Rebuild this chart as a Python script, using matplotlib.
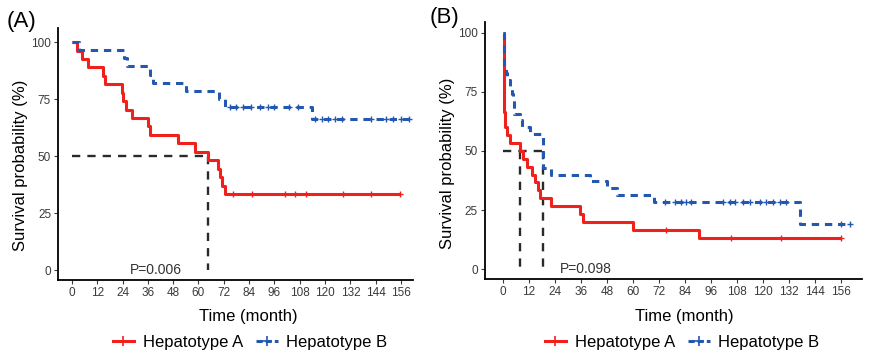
import matplotlib
matplotlib.use("Agg")
import matplotlib.pyplot as plt
from matplotlib.lines import Line2D

plt.rcParams['font.family'] = ['Liberation Sans', 'DejaVu Sans']

# ---------------- data ----------------
months_ticks = [0, 12, 24, 36, 48, 60, 72, 84, 96, 108, 120, 132, 144, 156]
surv_ticks = [0, 25, 50, 75, 100]
group_names = ["Hepatotype A", "Hepatotype B"]

# Panel A
A_red_times = [0, 2.2, 5, 7.5, 14.7, 15.5, 23.5, 24, 25.5, 28.5, 36, 36.8, 50.4, 58.3, 64.6, 69.3, 70.2, 71.2, 72.5]
A_red_surv = [100, 96.3, 92.6, 88.9, 85.2, 81.5, 77.8, 74.1, 70.4, 66.7, 63.0, 59.3, 55.6, 51.9, 48.1, 44.4, 40.7, 37.0, 33.3]
A_red_end = 155.5
A_red_censor = [76.5, 85.2, 101, 105.7, 111, 128.6, 142, 155.5]

A_blue_times = [0, 3.5, 24.5, 26, 37, 38.5, 54, 69.5, 72.5, 113.6]
A_blue_surv = [100, 96.4, 92.9, 89.3, 85.7, 82.1, 78.6, 75.0, 71.4, 66.4]
A_blue_end = 160
A_blue_censor = [75, 78, 81, 85, 89, 93, 96, 103, 107, 115, 118.4, 121.5, 124.7, 128, 142, 149, 152, 156, 160]
A_pvalue = "P=0.006"

# Panel B
B_red_times = [0, 0.3, 0.6, 0.8, 1.0, 1.8, 3.1, 7.7, 9.4, 10.9, 13.2, 14.7, 16.3, 17.1, 22.4, 35.4, 37.0, 60.0, 90.4]
B_red_surv = [100, 70, 66.7, 63.3, 60, 56.7, 53.3, 50, 46.7, 43.3, 40, 36.7, 33.3, 30, 26.7, 23.3, 20, 16.7, 13.3]
B_red_end = 156
B_red_censor = [75.4, 105.4, 128.5, 156]

B_blue_times = [0, 0.4, 1.2, 2.0, 3.1, 4.0, 4.6, 5.0, 5.3, 8.0, 9.0, 12.3, 18.5, 22.3, 40.0, 48.0, 52.6, 69.9, 137.0]
B_blue_surv = [100, 85.7, 82.9, 80.0, 77.1, 74.3, 71.4, 68.6, 65.7, 62.9, 60.0, 57.1, 42.9, 40.0, 37.1, 34.3, 31.4, 28.6, 19.0]
B_blue_end = 160
B_blue_censor = [74.6, 79.3, 82.3, 84.6, 86.9, 101.5, 104.6, 107, 110.8, 113.9, 118.5, 121.6, 124.6, 127.7, 130.8, 156.2, 160]
B_pvalue = "P=0.098"

RED = "#F0201C"
BLUE = "#2357B0"
TICKC = "#3A3A3A"

fig = plt.figure(figsize=(8.71, 3.61), dpi=100)


def surv_at(times, surv, t):
    val = surv[0]
    for ti, si in zip(times, surv):
        if ti <= t:
            val = si
    return val


def median_time(times, surv):
    for ti, si in zip(times, surv):
        if si <= 50:
            return ti
    return None


def draw_panel(ax, curves, pvalue, ptext_x, xlim, ylim):
    medians = []
    for times, surv, end, cens, color, ls in curves:
        xs = list(times) + [end]
        ys = list(surv) + [surv[-1]]
        ax.step(xs, ys, where='post', color=color, lw=2.2, linestyle=ls,
                solid_capstyle='butt', dash_capstyle='butt', zorder=3)
        cy = [surv_at(times, surv, c) for c in cens]
        ax.plot(cens, cy, linestyle='none', marker='+', color=color,
                markersize=5, markeredgewidth=1.0, zorder=4)
        m = median_time(times, surv)
        if m is not None:
            medians.append(m)
    if medians:
        ax.plot([0, max(medians)], [50, 50], color="#2a2a2a", lw=1.7,
                linestyle=(0, (3.5, 3)), zorder=2)
        for m in medians:
            ax.plot([m, m], [50, 0], color="#2a2a2a", lw=1.7,
                    linestyle=(0, (3.5, 3)), zorder=2)
    ax.text(ptext_x, 0, pvalue, fontsize=10, color="#333333", va='center', ha='left')
    ax.set_xlim(*xlim)
    ax.set_ylim(*ylim)
    ax.set_xticks(months_ticks)
    ax.set_yticks(surv_ticks)
    ax.set_xticklabels([str(v) for v in months_ticks])
    ax.set_yticklabels([str(v) for v in surv_ticks])
    ax.tick_params(axis='both', labelsize=8.5, colors=TICKC, length=3, width=0.8, pad=2)
    for s in ['top', 'right']:
        ax.spines[s].set_visible(False)
    for s in ['left', 'bottom']:
        ax.spines[s].set_color('black')
        ax.spines[s].set_linewidth(1.3)


axA = fig.add_axes([0.0666, 0.224, 0.4076, 0.698])
draw_panel(axA,
           [(A_red_times, A_red_surv, A_red_end, A_red_censor, RED, '-'),
            (A_blue_times, A_blue_surv, A_blue_end, A_blue_censor, BLUE, (0, (2.4, 1.9)))],
           A_pvalue, 27.5, (-6.6, 161.7), (-4.4, 106.1))

axB = fig.add_axes([0.5568, 0.2271, 0.4328, 0.712])
draw_panel(axB,
           [(B_red_times, B_red_surv, B_red_end, B_red_censor, RED, '-'),
            (B_blue_times, B_blue_surv, B_blue_end, B_blue_censor, BLUE, (0, (2.4, 1.9)))],
           B_pvalue, 26.2, (-8.3, 165.7), (-4.2, 104.6))

# axis titles
for xc in (248 / 871, 684 / 871):
    fig.text(xc, 1 - 317 / 361, "Time (month)", ha='center', va='center', fontsize=12)
fig.text(21 / 871, 1 - 165 / 361, "Survival probability (%)", rotation=90,
         ha='center', va='center', fontsize=12)
fig.text(447 / 871, 1 - 163 / 361, "Survival probability (%)", rotation=90,
         ha='center', va='center', fontsize=12)

# panel labels
fig.text(7 / 871, 1 - 21 / 361, "(A)", ha='left', va='center', fontsize=16)
fig.text(430 / 871, 1 - 17 / 361, "(B)", ha='left', va='center', fontsize=16)

# legends
handles = [Line2D([], [], color=RED, lw=2.2, marker='+', markersize=7, markeredgewidth=1.2),
           Line2D([], [], color=BLUE, lw=2.2, linestyle=(0, (2, 1)), marker='+', markersize=7,
                  markeredgewidth=1.2)]
for xc in (250 / 871, 682 / 871):
    fig.legend(handles, group_names, loc='center', bbox_to_anchor=(xc, 1 - 342 / 361),
               ncol=2, frameon=False, fontsize=12, handlelength=1.3, handletextpad=0.5,
               columnspacing=0.8, borderpad=0)

fig.savefig("out.png", dpi=100)
